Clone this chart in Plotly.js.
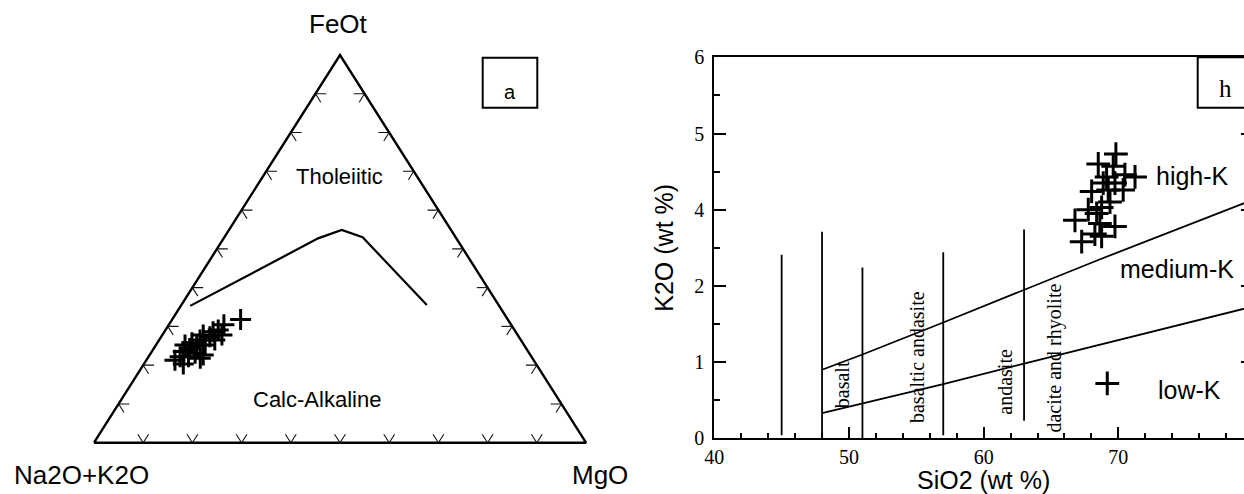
<!DOCTYPE html>
<html><head><meta charset="utf-8">
<script src="https://cdn.plot.ly/plotly-3.0.1.min.js"></script>
<style>html,body{margin:0;padding:0;overflow:hidden;background:#fff}#chart{width:1260px;height:494px}</style>
</head><body><div id="chart"></div>
<script>
// ---------- Panel a : AFM diagram (wt %, normalised) ----------
const afmAlk  = [54.3, 58.4, 60.2, 60.1, 61.5, 62.8, 62.2, 63.9, 65.2, 64.8, 66.5, 67.2, 68.4, 68.9, 70.1, 67.9, 66.5, 69.7, 71.4, 72.9, 71.7, 67.5];
const afmFeOt = [31.8, 30.4, 29.1, 27.8, 28.6, 27.3, 26.5, 27.8, 26.5, 25.2, 25.2, 25.8, 24.3, 25.2, 23.5, 23.1, 22.6, 22.2, 22.2, 21.3, 20.3, 21.8];
const afmMgO  = [13.9, 11.2, 10.7, 12.1, 9.9, 9.9, 11.3, 8.3, 8.3, 10.0, 8.3, 7.0, 7.3, 5.9, 6.4, 9.0, 10.9, 8.1, 6.4, 5.8, 8.0, 10.7];
const afmBoundaryAlk  = [62.8, 28.1, 22.2, 18.9, 14.6];
const afmBoundaryFeOt = [35.3, 52.7, 54.9, 53.0, 35.5];
const afmBoundaryMgO  = [1.9, 19.2, 22.9, 28.1, 49.9];
const ternaryTicks = [10, 20, 30, 40, 50, 60, 70, 80, 90];
const ternaryCorners = ['FeOt', 'Na2O+K2O', 'MgO'];
const afmFields = ['Tholeiitic', 'Calc-Alkaline'];

// ---------- Panel b : SiO2 vs K2O ----------
const sio2 = [69.82, 68.51, 69.62, 70.49, 71.24, 69.13, 68.88, 69.75, 70.36, 68.02, 69.25, 69.38, 68.76, 67.77, 68.39, 66.78, 68.63, 69.75, 68.26, 68.76, 67.28, 69.18];
const k2o  = [3.73, 3.60, 3.57, 3.46, 3.43, 3.43, 3.35, 3.35, 3.26, 3.24, 3.26, 3.10, 3.03, 3.00, 2.95, 2.86, 2.82, 2.78, 2.68, 2.65, 2.58, 0.72];
const highKLineSiO2 = [48, 51, 57, 63, 68.65, 80];
const highKLineK2O  = [0.90, 1.10, 1.52, 1.95, 2.35, 3.13];
const lowKLineSiO2  = [48, 51, 57, 63, 68.65, 80];
const lowKLineK2O   = [0.33, 0.46, 0.71, 0.98, 1.23, 1.73];
const dividerSiO2   = [45, 48, 51, 57, 63];
const dividerTop    = [2.41, 2.71, 2.24, 2.44, 2.74];
const dividerBottom = [0.04, 0.00, 0.00, 0.04, 0.23];
const rockNames     = ['basalt', 'basaltic andasite', 'andasite', 'dacite and rhyolite'];
const rockNameSiO2  = [49.5, 55.07, 61.57, 65.24];
const rockNameK2O   = [0.70, 1.07, 0.74, 1.05];
const seriesNames   = ['high-K', 'medium-K', 'low-K'];
const seriesNameSiO2 = [75.54, 74.35, 75.32];
const seriesNameK2O  = [3.44, 2.22, 0.64];
const k2oTickVals = [0, 1, 2, 3, 4, 5];
const k2oTickText = ['0', '1', '2', '4', '5', '6'];
const sio2TickVals = [40, 50, 60, 70];
const panelLabels = ['a', 'h'];

// ---------- helpers ----------
const W = 1260, H = 494;
const px = x => x / W, py = y => 1 - y / H;
function tern(a, f, m) { const s = a + f + m; return [(m + f / 2) / s, f / s]; }
function ternTrace(A, F, M) {
  const x = [], y = [];
  for (let i = 0; i < A.length; i++) {
    if (A[i] === null) { x.push(null); y.push(null); continue; }
    const p = tern(A[i], F[i], M[i]); x.push(p[0]); y.push(p[1]);
  }
  return {x, y};
}
const SANS = 'Liberation Sans, Arial, sans-serif';
const SERIF = 'Liberation Serif, Times New Roman, serif';

// triangle outline
const tri = ternTrace([100, 0, 0, 100], [0, 100, 0, 0], [0, 0, 100, 0]);
// ternary gridline stubs (ticks)
const L = 2.2;
const tA = [], tF = [], tM = [];
function seg(p, q) { tA.push(p[0], q[0], null); tF.push(p[1], q[1], null); tM.push(p[2], q[2], null); }
ternaryTicks.forEach(t => {
  seg([100 - t, 0, t], [100 - t - L, L, t]);
  seg([100 - t, 0, t], [100 - t, L, t - L]);
  seg([100 - t, t, 0], [100 - t - L, t, L]);
  seg([100 - t, t, 0], [100 - t, t - L, L]);
  seg([0, t, 100 - t], [L, t, 100 - t - L]);
  seg([0, t, 100 - t], [L, t - L, 100 - t]);
});
const tickXY = ternTrace(tA, tF, tM);
const bnd = ternTrace(afmBoundaryAlk, afmBoundaryFeOt, afmBoundaryMgO);
const pts = ternTrace(afmAlk, afmFeOt, afmMgO);

// vertical dividers
const dvx = [], dvy = [];
dividerSiO2.forEach((s, i) => { dvx.push(s, s, null); dvy.push(dividerBottom[i], dividerTop[i], null); });

const traces = [
  {x: tri.x, y: tri.y, xaxis: 'x2', yaxis: 'y2', mode: 'lines', line: {color: '#000', width: 2.4}, hoverinfo: 'skip'},
  {x: tickXY.x, y: tickXY.y, xaxis: 'x2', yaxis: 'y2', mode: 'lines', line: {color: '#111', width: 1.1}, hoverinfo: 'skip'},
  {x: bnd.x, y: bnd.y, xaxis: 'x2', yaxis: 'y2', mode: 'lines', line: {color: '#000', width: 2.2}},
  {x: pts.x, y: pts.y, xaxis: 'x2', yaxis: 'y2', mode: 'markers', marker: {symbol: 'cross-thin', size: 15, color: '#000', line: {color: '#000', width: 3}}},
  {x: highKLineSiO2, y: highKLineK2O, mode: 'lines', line: {color: '#000', width: 1.8}},
  {x: lowKLineSiO2, y: lowKLineK2O, mode: 'lines', line: {color: '#000', width: 1.8}},
  {x: dvx, y: dvy, mode: 'lines', line: {color: '#000', width: 1.8}},
  {x: sio2, y: k2o, mode: 'markers', marker: {symbol: 'cross-thin', size: 17, color: '#000', line: {color: '#000', width: 3}}}
];

const annotations = [];
function paperText(x, y, text, font) {
  annotations.push({xref: 'paper', yref: 'paper', x: px(x), y: py(y), text: text, showarrow: false, font: font, xanchor: 'center', yanchor: 'middle'});
}
paperText(338, 24, ternaryCorners[0], {family: SANS, size: 26, color: '#000'});
paperText(81.7, 475, ternaryCorners[1], {family: SANS, size: 26, color: '#000'});
paperText(600, 475, ternaryCorners[2], {family: SANS, size: 26, color: '#000'});
paperText(510, 92, panelLabels[0], {family: SANS, size: 20, color: '#000'});
paperText(1225, 89, panelLabels[1], {family: SERIF, size: 25, color: '#000'});
annotations.push({xref: 'x2', yref: 'y2', x: 0.498, y: 0.686, text: afmFields[0], showarrow: false, font: {family: SANS, size: 22, color: '#000'}, xanchor: 'center', yanchor: 'middle'});
annotations.push({xref: 'x2', yref: 'y2', x: 0.454, y: 0.112, text: afmFields[1], showarrow: false, font: {family: SANS, size: 22, color: '#000'}, xanchor: 'center', yanchor: 'middle'});
rockNames.forEach((n, i) => annotations.push({x: rockNameSiO2[i], y: rockNameK2O[i], text: n, textangle: -90, showarrow: false, font: {family: SERIF, size: 20, color: '#000'}, xanchor: 'center', yanchor: 'middle'}));
seriesNames.forEach((n, i) => annotations.push({x: seriesNameSiO2[i], y: seriesNameK2O[i], text: n, showarrow: false, font: {family: SANS, size: 25, color: '#000'}, xanchor: 'center', yanchor: 'middle'}));

const layout = {
  width: W, height: H,
  margin: {l: 0, r: 0, t: 0, b: 0},
  paper_bgcolor: '#fff', plot_bgcolor: 'rgba(0,0,0,0)',
  showlegend: false,
  xaxis: {
    domain: [px(714.3), px(1253)], range: [40, 80],
    showline: true, linecolor: '#000', linewidth: 2, mirror: true,
    ticks: 'inside', ticklen: 11, tickwidth: 2, tickcolor: '#000',
    tickmode: 'array', tickvals: sio2TickVals,
    minor: {ticks: 'inside', dtick: 2, tick0: 40, ticklen: 5, tickwidth: 2, tickcolor: '#000'},
    tickfont: {family: SERIF, size: 20, color: '#000'},
    showgrid: false, zeroline: false,
    title: {text: 'SiO2 (wt %)', font: {family: SANS, size: 25, color: '#000'}, standoff: 4}
  },
  yaxis: {
    domain: [py(438.3), py(57.3)], range: [0, 5],
    showline: true, linecolor: '#000', linewidth: 2, mirror: 'ticks',
    ticks: 'inside', ticklen: 12, tickwidth: 2, tickcolor: '#000',
    tickmode: 'array', tickvals: k2oTickVals, ticktext: k2oTickText,
    minor: {ticks: 'inside', dtick: 0.5, tick0: 0, ticklen: 6, tickwidth: 2, tickcolor: '#000'},
    tickfont: {family: SERIF, size: 20, color: '#000'}, ticklabelstandoff: 4,
    showgrid: false, zeroline: false,
    title: {text: 'K2O (wt %)', font: {family: SANS, size: 25, color: '#000'}, standoff: 14}
  },
  xaxis2: {domain: [px(69.4), px(610.6)], range: [-0.05, 1.05], visible: false, showgrid: false, zeroline: false, anchor: 'y2'},
  yaxis2: {domain: [py(462.1), py(35.6)], range: [-0.05, 1.05], visible: false, showgrid: false, zeroline: false, anchor: 'x2'},
  shapes: [
    {type: 'rect', xref: 'paper', yref: 'paper', x0: px(482.7), x1: px(537.3), y0: py(107.7), y1: py(57.7), line: {color: '#000', width: 2}},
    {type: 'rect', xref: 'paper', yref: 'paper', x0: px(1197.7), x1: px(1253), y0: py(107.7), y1: py(57.3), line: {color: '#000', width: 2}}
  ],
  annotations: annotations
};
Plotly.newPlot('chart', traces, layout, {staticPlot: true, displayModeBar: false});
</script></body></html>
